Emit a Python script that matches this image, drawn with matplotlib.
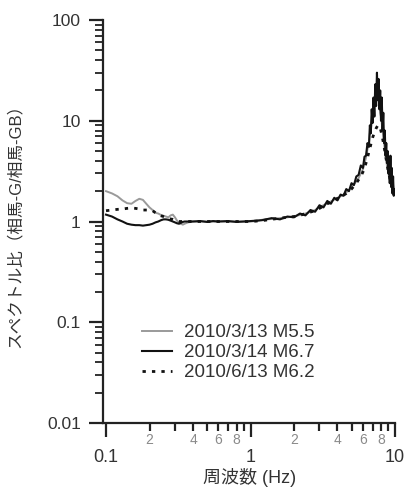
import numpy as np
import matplotlib
matplotlib.use('Agg')
import matplotlib.pyplot as plt
from matplotlib.ticker import FixedLocator, FuncFormatter

plt.rcParams['font.family'] = ['Liberation Sans', 'Noto Sans CJK JP']

# low band (common frequencies)
freq_lo = [0.1, 0.11, 0.12, 0.13, 0.14, 0.15, 0.16, 0.17, 0.18, 0.19, 0.2, 0.21, 0.22, 0.23,
           0.24, 0.25, 0.26, 0.27, 0.28, 0.29, 0.3, 0.31, 0.32, 0.33, 0.34, 0.35, 0.37, 0.4,
           0.45, 0.5, 0.55, 0.6, 0.7, 0.8, 0.9, 1.0, 1.1]
m55_lo = [2.0, 1.9, 1.78, 1.62, 1.52, 1.5, 1.6, 1.68, 1.64, 1.5, 1.38, 1.3, 1.22, 1.2,
          1.16, 1.14, 1.12, 1.1, 1.15, 1.17, 1.1, 1.02, 0.97, 0.95, 0.93, 0.95, 0.98, 1.0,
          1.0, 1.0, 1.0, 1.0, 1.0, 1.0, 1.0, 1.0, 1.01]
m67_lo = [1.17, 1.12, 1.05, 1.0, 0.95, 0.93, 0.92, 0.92, 0.91, 0.92, 0.93, 0.95, 0.98, 1.0,
          1.03, 1.05, 1.05, 1.04, 1.02, 1.0, 0.98, 0.96, 0.95, 0.97, 0.99, 1.0, 1.0, 1.0,
          1.01, 0.99, 1.01, 1.0, 1.01, 0.99, 1.0, 1.01, 1.02]
m62_lo = [1.28, 1.3, 1.32, 1.33, 1.35, 1.36, 1.35, 1.33, 1.3, 1.3, 1.3, 1.28, 1.22, 1.17,
          1.14, 1.12, 1.1, 1.08, 1.06, 1.05, 1.03, 1.01, 1.0, 1.0, 1.0, 1.0, 1.0, 1.0,
          1.0, 1.0, 1.0, 1.0, 1.0, 1.0, 1.0, 1.0, 1.01]

# high band, around the site resonance
freq_hi = [1.2, 1.4, 1.6, 1.8, 2.0, 2.2, 2.4, 2.6, 2.8, 3.0, 3.2, 3.4, 3.6, 3.8, 4.0, 4.2,
           4.4, 4.6, 4.8, 5.0, 5.2, 5.4, 5.6, 5.8, 6.0, 6.15, 6.3, 6.45, 6.6, 6.7, 6.8, 6.9,
           7.0, 7.1, 7.2, 7.3, 7.4, 7.5, 7.6, 7.7, 7.8, 7.9, 8.0, 8.1, 8.2, 8.3, 8.4, 8.5,
           8.6, 8.7, 8.8, 8.9, 9.0, 9.1, 9.2, 9.3, 9.4, 9.5, 9.6, 9.7, 9.8, 9.9]
m67_hi = [1.03, 1.08, 1.05, 1.12, 1.1, 1.2, 1.15, 1.3, 1.25, 1.45, 1.38, 1.6, 1.5, 1.72, 1.62, 1.85,
          1.8, 2.1, 2.0, 2.4, 2.3, 2.8, 2.9, 3.6, 3.4, 4.4, 4.5, 6.0, 5.5, 9.0, 7.5, 13.0,
          9.5, 17.0, 11.0, 23.0, 14.0, 30.0, 16.0, 26.0, 13.0, 20.0, 10.0, 17.0, 8.0, 12.0, 6.0, 8.0,
          4.5, 6.0, 3.8, 5.0, 3.0, 4.0, 2.4, 4.5, 2.2, 3.4, 1.9, 2.8, 1.8, 2.1]
m55_hi = [1.04, 1.06, 1.08, 1.1, 1.13, 1.16, 1.2, 1.25, 1.3, 1.38, 1.45, 1.52, 1.58, 1.65, 1.7, 1.78,
          1.85, 1.95, 2.05, 2.2, 2.35, 2.5, 2.7, 3.0, 3.3, 3.8, 4.3, 5.2, 6.0, 7.5, 8.0, 10.0,
          11.0, 13.0, 14.0, 17.0, 19.0, 20.0, 18.0, 16.0, 14.0, 12.0, 11.0, 9.5, 8.0, 7.0, 6.0, 5.2,
          4.5, 4.0, 3.6, 3.3, 3.0, 2.8, 2.6, 3.2, 2.4, 2.6, 2.1, 2.3, 2.0, 2.0]
m62_hi = [1.02, 1.05, 1.08, 1.1, 1.12, 1.15, 1.2, 1.24, 1.28, 1.35, 1.42, 1.5, 1.55, 1.62, 1.7, 1.76,
          1.82, 1.9, 2.0, 2.1, 2.25, 2.4, 2.6, 2.8, 3.1, 3.4, 3.8, 4.3, 4.9, 5.3, 5.8, 6.3,
          6.8, 7.2, 7.6, 8.0, 8.4, 8.7, 9.0, 9.0, 8.8, 8.4, 7.9, 7.3, 6.7, 6.1, 5.5, 5.0,
          4.5, 4.1, 3.7, 3.4, 3.1, 2.9, 2.7, 2.6, 2.4, 2.3, 2.2, 2.1, 2.0, 2.0]

labels = ['2010/3/13 M5.5', '2010/3/14 M6.7', '2010/6/13 M6.2']

fig = plt.figure(figsize=(4.05, 4.88), dpi=100)
ax = fig.add_axes([0.2543, 0.1332, 0.721, 0.8258])

ax.plot(freq_lo + freq_hi, m55_lo + m55_hi, color='#9a9a9a', lw=1.4, label=labels[0])
ax.plot(freq_lo + freq_hi, m67_lo + m67_hi, color='#111111', lw=1.5, label=labels[1])
ax.plot(freq_lo + freq_hi, m62_lo + m62_hi, color='#111111', lw=2.0,
        linestyle=(0, (1.2, 2.2)), label=labels[2])

ax.set_xscale('log')
ax.set_yscale('log')
ax.set_xlim(0.0953, 10)
ax.set_ylim(0.01, 100)

for s in ['top', 'right']:
    ax.spines[s].set_visible(False)
for s in ['left', 'bottom']:
    ax.spines[s].set_linewidth(1.6)
    ax.spines[s].set_color('#222222')


def minor_label(v, pos):
    m = int(round(v / 10 ** np.floor(np.log10(v) + 1e-9)))
    return str(m) if m in (2, 4, 6, 8) else ''


# x ticks: big labels on decades, small grey ones on 2,4,6,8
ax.xaxis.set_major_locator(FixedLocator([0.1, 1, 10]))
ax.xaxis.set_major_formatter(FuncFormatter(lambda v, p: '%g' % v))
xminor = [m * d for d in [0.1, 1] for m in range(2, 10)]
ax.xaxis.set_minor_locator(FixedLocator(xminor))
ax.xaxis.set_minor_formatter(FuncFormatter(minor_label))
ax.tick_params(axis='x', which='major', length=10, width=1.6, pad=9,
               labelsize=13, labelcolor='#333333', color='#222222')
ax.tick_params(axis='x', which='minor', length=6, width=1.6, pad=1,
               labelsize=10, labelcolor='#8a8a8a', color='#222222')

ax.yaxis.set_major_locator(FixedLocator([0.01, 0.1, 1, 10, 100]))
ax.yaxis.set_major_formatter(FuncFormatter(lambda v, p: '%g' % v))
yminor = [m * d for d in [0.01, 0.1, 1, 10] for m in range(2, 10)]
ax.yaxis.set_minor_locator(FixedLocator(yminor))
ax.yaxis.set_minor_formatter(FuncFormatter(lambda v, p: ''))
ax.tick_params(axis='y', which='major', length=10, width=1.6, pad=6,
               labelsize=12.5, labelcolor='#333333', color='#222222')
ax.tick_params(axis='y', which='minor', length=6, width=1.3, color='#222222')

ax.set_ylabel('スペクトル比（相馬-G/相馬-GB）', fontsize=12, color='#333333')
ax.yaxis.set_label_coords(-0.274, 0.5)
ax.set_xlabel('周波数 (Hz)', fontsize=13, color='#333333')
ax.xaxis.set_label_coords(0.503, -0.112)

leg = ax.legend(loc='upper left', bbox_to_anchor=(0.108, 0.264), frameon=False,
                fontsize=13.5, handlelength=1.6, handletextpad=0.64, labelspacing=0.15,
                borderaxespad=0)
for t in leg.get_texts():
    t.set_color('#333333')

fig.savefig('out.png', dpi=100)
